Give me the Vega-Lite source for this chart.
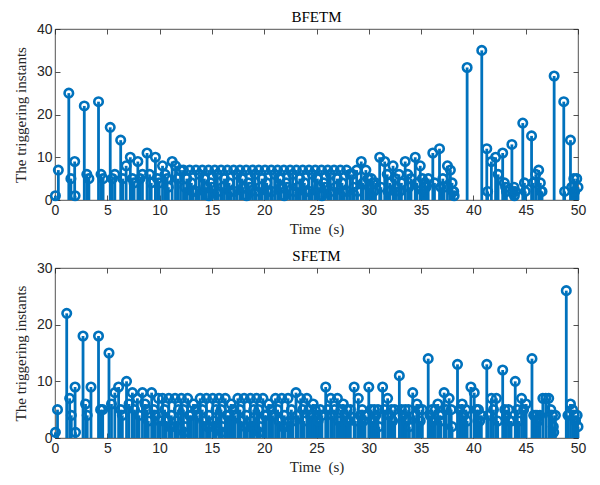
{
"$schema":"https://vega.github.io/schema/vega-lite/v6.json",
"padding":{"left":13,"top":9,"right":20,"bottom":4},
"spacing":11,
"datasets":{
"b":[{"t":0.04,"y":1},{"t":0.32,"y":7},{"t":1.32,"y":25},{"t":1.52,"y":5},{"t":1.88,"y":9},{"t":1.92,"y":1},{"t":2.80,"y":22},{"t":3.04,"y":6},{"t":3.24,"y":5},{"t":4.16,"y":23},{"t":4.40,"y":6},{"t":4.60,"y":5},{"t":5.28,"y":17},{"t":5.48,"y":5},{"t":5.72,"y":6},{"t":6.28,"y":14},
{"t":6.48,"y":5},{"t":6.80,"y":8},{"t":7.20,"y":10},{"t":7.40,"y":5},{"t":7.56,"y":4},{"t":7.92,"y":9},{"t":8.12,"y":5},{"t":8.36,"y":6},{"t":8.80,"y":11},{"t":9.04,"y":6},{"t":9.20,"y":4},{"t":9.60,"y":10},{"t":9.80,"y":5},{"t":9.96,"y":4},{"t":10.28,"y":8},{"t":10.52,"y":6},{"t":10.72,"y":5},{"t":10.84,"y":3},{"t":11.20,"y":9},{"t":11.52,"y":8},{"t":11.72,"y":5},{"t":12.00,"y":7},
{"t":12.28,"y":7},{"t":12.40,"y":3},{"t":12.60,"y":5},{"t":12.88,"y":7},{"t":13.04,"y":4},{"t":13.12,"y":2},{"t":13.20,"y":2},{"t":13.48,"y":7},{"t":13.56,"y":2},{"t":13.80,"y":6},{"t":14.08,"y":7},{"t":14.28,"y":5},{"t":14.40,"y":3},{"t":14.68,"y":7},{"t":14.72,"y":1},{"t":14.88,"y":4},{"t":15.00,"y":3},{"t":15.28,"y":7},{"t":15.52,"y":6},{"t":15.60,"y":2},
{"t":15.88,"y":7},{"t":16.00,"y":3},{"t":16.20,"y":5},{"t":16.48,"y":7},{"t":16.64,"y":4},{"t":16.72,"y":2},{"t":16.80,"y":2},{"t":17.08,"y":7},{"t":17.16,"y":2},{"t":17.40,"y":6},{"t":17.68,"y":7},{"t":17.88,"y":5},{"t":18.00,"y":3},{"t":18.28,"y":7},{"t":18.32,"y":1},{"t":18.48,"y":4},{"t":18.60,"y":3},{"t":18.88,"y":7},{"t":19.12,"y":6},{"t":19.20,"y":2},
{"t":19.48,"y":7},{"t":19.60,"y":3},{"t":19.80,"y":5},{"t":20.08,"y":7},{"t":20.24,"y":4},{"t":20.32,"y":2},{"t":20.40,"y":2},{"t":20.68,"y":7},{"t":20.76,"y":2},{"t":21.00,"y":6},{"t":21.28,"y":7},{"t":21.48,"y":5},{"t":21.60,"y":3},{"t":21.88,"y":7},{"t":21.92,"y":1},{"t":22.08,"y":4},{"t":22.20,"y":3},{"t":22.48,"y":7},{"t":22.72,"y":6},{"t":22.80,"y":2},
{"t":23.08,"y":7},{"t":23.20,"y":3},{"t":23.40,"y":5},{"t":23.68,"y":7},{"t":23.84,"y":4},{"t":23.92,"y":2},{"t":24.00,"y":2},{"t":24.28,"y":7},{"t":24.36,"y":2},{"t":24.60,"y":6},{"t":24.88,"y":7},{"t":25.08,"y":5},{"t":25.20,"y":3},{"t":25.48,"y":7},{"t":25.52,"y":1},{"t":25.68,"y":4},{"t":25.80,"y":3},{"t":26.08,"y":7},{"t":26.32,"y":6},{"t":26.40,"y":2},
{"t":26.68,"y":7},{"t":26.80,"y":3},{"t":27.00,"y":5},{"t":27.28,"y":7},{"t":27.44,"y":4},{"t":27.52,"y":2},{"t":27.60,"y":2},{"t":27.88,"y":7},{"t":27.96,"y":2},{"t":28.20,"y":6},
{"t":28.44,"y":6},{"t":28.56,"y":3},{"t":28.84,"y":7},{"t":28.92,"y":2},{"t":29.28,"y":9},{"t":29.44,"y":4},{"t":29.72,"y":7},{"t":29.92,"y":5},{"t":30.04,"y":3},{"t":30.24,"y":5},{"t":30.40,"y":4},{"t":30.48,"y":2},{"t":30.64,"y":4},{"t":31.04,"y":10},{"t":31.16,"y":3},{"t":31.52,"y":9},{"t":31.76,"y":6},{"t":31.84,"y":2},{"t":32.00,"y":4},{"t":32.32,"y":8},{"t":32.52,"y":5},{"t":32.64,"y":3},{"t":32.88,"y":6},{"t":32.96,"y":2},{"t":33.12,"y":4},{"t":33.48,"y":9},{"t":33.72,"y":6},{"t":33.84,"y":3},{"t":34.04,"y":5},{"t":34.44,"y":10},{"t":34.60,"y":4},{"t":34.92,"y":8},{"t":35.12,"y":5},{"t":35.20,"y":2},{"t":35.36,"y":4},{"t":35.48,"y":3},{"t":35.68,"y":5},{"t":36.12,"y":11},{"t":36.28,"y":4},{"t":36.76,"y":12},{"t":36.88,"y":3},{"t":37.08,"y":5},{"t":37.20,"y":3},{"t":37.52,"y":8},{"t":37.80,"y":7},{"t":37.96,"y":4},{"t":38.04,"y":2},{"t":38.12,"y":2},{"t":38.16,"y":1},
{"t":39.40,"y":31},{"t":40.80,"y":35},
{"t":41.28,"y":12},{"t":41.36,"y":2},{"t":41.72,"y":9},{"t":42.12,"y":10},{"t":42.36,"y":6},{"t":42.80,"y":11},{"t":42.96,"y":4},{"t":43.08,"y":3},{"t":43.16,"y":2},{"t":43.68,"y":13},{"t":43.76,"y":2},{"t":43.88,"y":3},{"t":43.92,"y":1},{"t":44.00,"y":2},{"t":44.72,"y":18},{"t":44.88,"y":4},{"t":44.96,"y":2},{"t":45.56,"y":15},{"t":45.72,"y":4},{"t":45.96,"y":6},{"t":46.24,"y":7},{"t":46.40,"y":4},{"t":46.48,"y":2},{"t":46.56,"y":2},{"t":47.72,"y":29},{"t":48.64,"y":23},{"t":48.72,"y":2},{"t":49.28,"y":14},{"t":49.40,"y":3},{"t":49.60,"y":5},{"t":49.68,"y":2},{"t":49.88,"y":5},{"t":50.00,"y":3}],
"s":[{"t":0.04,"y":1},{"t":0.24,"y":5},{"t":1.12,"y":22},{"t":1.40,"y":7},{"t":1.56,"y":4},{"t":1.92,"y":9},{"t":1.96,"y":1},{"t":2.68,"y":18},{"t":2.92,"y":6},{"t":3.08,"y":4},{"t":3.44,"y":9},{"t":4.16,"y":18},{"t":4.36,"y":5},{"t":4.56,"y":5},{"t":5.16,"y":15},{"t":5.40,"y":6},{"t":5.72,"y":8},{"t":6.08,"y":9},{"t":6.28,"y":5},{"t":6.44,"y":4},{"t":6.84,"y":10},{"t":7.08,"y":6},{"t":7.40,"y":8},{"t":7.60,"y":5},{"t":7.88,"y":7},{"t":8.04,"y":4},{"t":8.36,"y":8},{"t":8.60,"y":6},{"t":8.80,"y":5},{"t":8.92,"y":3},{"t":9.24,"y":8},{"t":9.44,"y":5},{"t":9.60,"y":4},{"t":9.88,"y":7},{"t":10.00,"y":3},
{"t":10.28,"y":7},{"t":10.48,"y":5},{"t":10.60,"y":3},{"t":10.88,"y":7},{"t":10.96,"y":2},{"t":11.12,"y":4},{"t":11.20,"y":2},{"t":11.48,"y":7},{"t":11.60,"y":3},{"t":11.80,"y":5},{"t":12.08,"y":7},{"t":12.28,"y":5},{"t":12.32,"y":1},{"t":12.40,"y":2},{"t":12.68,"y":7},{"t":12.84,"y":4},{"t":13.00,"y":4},{"t":13.24,"y":6},{"t":13.44,"y":5},{"t":13.60,"y":4},
{"t":13.88,"y":7},{"t":14.08,"y":5},{"t":14.20,"y":3},{"t":14.48,"y":7},{"t":14.56,"y":2},{"t":14.72,"y":4},{"t":14.80,"y":2},{"t":15.08,"y":7},{"t":15.20,"y":3},{"t":15.40,"y":5},{"t":15.68,"y":7},{"t":15.88,"y":5},{"t":15.92,"y":1},{"t":16.00,"y":2},{"t":16.28,"y":7},{"t":16.44,"y":4},{"t":16.60,"y":4},{"t":16.84,"y":6},{"t":17.04,"y":5},{"t":17.20,"y":4},
{"t":17.48,"y":7},{"t":17.68,"y":5},{"t":17.80,"y":3},{"t":18.08,"y":7},{"t":18.16,"y":2},{"t":18.32,"y":4},{"t":18.40,"y":2},{"t":18.68,"y":7},{"t":18.80,"y":3},{"t":19.00,"y":5},{"t":19.28,"y":7},{"t":19.48,"y":5},{"t":19.52,"y":1},{"t":19.60,"y":2},{"t":19.88,"y":7},{"t":20.04,"y":4},{"t":20.20,"y":4},{"t":20.44,"y":6},{"t":20.64,"y":5},{"t":20.80,"y":4},
{"t":21.08,"y":7},{"t":21.28,"y":5},{"t":21.40,"y":3},{"t":21.68,"y":7},{"t":21.76,"y":2},{"t":21.92,"y":4},{"t":22.00,"y":2},{"t":22.28,"y":7},{"t":22.40,"y":3},{"t":22.60,"y":5},
{"t":22.72,"y":3},{"t":23.04,"y":8},{"t":23.20,"y":4},{"t":23.48,"y":7},{"t":23.68,"y":5},{"t":23.80,"y":3},{"t":24.08,"y":7},{"t":24.28,"y":5},{"t":24.44,"y":4},{"t":24.68,"y":6},{"t":24.88,"y":5},{"t":25.04,"y":4},{"t":25.16,"y":3},{"t":25.36,"y":5},{"t":25.52,"y":4},{"t":25.88,"y":9},{"t":26.08,"y":5},{"t":26.36,"y":7},{"t":26.52,"y":4},{"t":26.72,"y":5},{"t":27.00,"y":7},{"t":27.12,"y":3},{"t":27.32,"y":5},{"t":27.56,"y":6},{"t":27.72,"y":4},{"t":27.92,"y":5},{"t":28.04,"y":3},{"t":28.24,"y":5},{"t":28.60,"y":9},{"t":28.72,"y":3},{"t":29.00,"y":7},{"t":29.16,"y":4},{"t":29.36,"y":5},{"t":29.48,"y":3},{"t":29.64,"y":4},{"t":30.00,"y":9},{"t":30.20,"y":5},{"t":30.32,"y":3},{"t":30.52,"y":5},{"t":30.68,"y":4},{"t":30.88,"y":5},{"t":30.96,"y":2},{"t":31.32,"y":9},{"t":31.52,"y":5},{"t":31.80,"y":7},{"t":31.96,"y":4},{"t":32.16,"y":5},{"t":32.28,"y":3},{"t":32.48,"y":5},{"t":32.92,"y":11},{"t":33.12,"y":5},{"t":33.28,"y":4},{"t":33.48,"y":5},{"t":33.60,"y":3},{"t":33.80,"y":5},{"t":33.88,"y":2},{"t":34.20,"y":8},{"t":34.36,"y":4},{"t":34.60,"y":6},{"t":34.80,"y":5},{"t":34.92,"y":3},{"t":35.12,"y":5},{"t":35.68,"y":14},{"t":35.84,"y":4},{"t":36.04,"y":5},{"t":36.16,"y":3},{"t":36.36,"y":5},{"t":36.60,"y":6},{"t":36.76,"y":4},{"t":36.88,"y":3},{"t":37.20,"y":8},{"t":37.40,"y":5},{"t":37.68,"y":7},{"t":37.88,"y":5},{"t":37.96,"y":2},{"t":38.48,"y":13},{"t":38.68,"y":5},{"t":38.92,"y":6},{"t":39.08,"y":4},{"t":39.28,"y":5},{"t":39.40,"y":3},{"t":39.76,"y":9},{"t":40.08,"y":8},{"t":40.28,"y":5},{"t":40.48,"y":5},{"t":40.60,"y":3},{"t":40.76,"y":4},{"t":41.28,"y":13},{"t":41.44,"y":4},{"t":41.72,"y":7},{"t":41.92,"y":5},{"t":42.20,"y":7},{"t":42.32,"y":3},{"t":42.80,"y":12},{"t":43.00,"y":5},{"t":43.16,"y":4},{"t":43.36,"y":5},{"t":43.48,"y":3},{"t":43.60,"y":3},{"t":44.00,"y":10},{"t":44.20,"y":5},{"t":44.32,"y":3},{"t":44.60,"y":7},{"t":44.80,"y":5},{"t":45.04,"y":6},{"t":45.60,"y":14},{"t":45.76,"y":4},{"t":45.92,"y":4},{"t":46.08,"y":4},{"t":46.20,"y":3},{"t":46.36,"y":4},{"t":46.64,"y":7},{"t":46.92,"y":7},{"t":47.20,"y":7},{"t":47.40,"y":5},{"t":47.56,"y":4},{"t":47.64,"y":2},{"t":47.68,"y":1},{"t":47.84,"y":4},{"t":48.88,"y":26},{"t":49.04,"y":4},{"t":49.28,"y":6},{"t":49.48,"y":5},{"t":49.64,"y":4},{"t":49.76,"y":3},{"t":49.92,"y":4},{"t":50.00,"y":2}]
},
"vconcat":[
{"title":{"text":"BFETM"},"width":523,"height":171,"data":{"name":"b"},
"layer":[
{"mark":{"type":"rule","color":"#0072BD","strokeWidth":2.8},
"encoding":{"x":{"field":"t","type":"quantitative","scale":{"domain":[0,50],"nice":false,"zero":false},"axis":{"values":[0,5,10,15,20,25,30,35,40,45,50],"title":"Time\u00a0\u00a0(s)"}},
"y":{"field":"y","type":"quantitative","scale":{"domain":[0,40],"nice":false},"axis":{"values":[0,10,20,30,40],"title":"The triggering instants"}},
"y2":{"datum":0}}},
{"mark":{"type":"point","shape":"circle","filled":false,"color":"#0072BD","strokeWidth":2.6,"size":72,"opacity":1},
"encoding":{"x":{"field":"t","type":"quantitative","axis":null},"y":{"field":"y","type":"quantitative","axis":null}}},
{"mark":{"type":"point","opacity":0},
"encoding":{"x":{"field":"t","type":"quantitative","axis":{"orient":"top","labels":false,"title":null,"values":[0,5,10,15,20,25,30,35,40,45,50]}},"y":{"field":"y","type":"quantitative","axis":{"orient":"right","labels":false,"title":null,"values":[0,10,20,30,40]}}}}
],
"resolve":{"axis":{"x":"independent","y":"independent"}}},
{"title":{"text":"SFETM"},"width":523,"height":170,"data":{"name":"s"},
"layer":[
{"mark":{"type":"rule","color":"#0072BD","strokeWidth":2.8},
"encoding":{"x":{"field":"t","type":"quantitative","scale":{"domain":[0,50],"nice":false,"zero":false},"axis":{"values":[0,5,10,15,20,25,30,35,40,45,50],"title":"Time\u00a0\u00a0(s)"}},
"y":{"field":"y","type":"quantitative","scale":{"domain":[0,30],"nice":false},"axis":{"values":[0,10,20,30],"title":"The triggering instants"}},
"y2":{"datum":0}}},
{"mark":{"type":"point","shape":"circle","filled":false,"color":"#0072BD","strokeWidth":2.6,"size":72,"opacity":1},
"encoding":{"x":{"field":"t","type":"quantitative","axis":null},"y":{"field":"y","type":"quantitative","axis":null}}},
{"mark":{"type":"point","opacity":0},
"encoding":{"x":{"field":"t","type":"quantitative","axis":{"orient":"top","labels":false,"title":null,"values":[0,5,10,15,20,25,30,35,40,45,50]}},"y":{"field":"y","type":"quantitative","axis":{"orient":"right","labels":false,"title":null,"values":[0,10,20,30]}}}}
],
"resolve":{"axis":{"x":"independent","y":"independent"}}}
],
"config":{
"view":{"stroke":"#262626","strokeWidth":0.8},
"axis":{"domain":false,"grid":false,"ticks":true,"tickColor":"#262626","tickSize":-5,"tickWidth":0.8,"labelPadding":8,"labelFont":"Liberation Sans","labelFontSize":14,"labelColor":"#262626","titleFont":"Liberation Serif","titleFontSize":15,"titleFontWeight":"normal","titleColor":"#262626"},
"axisX":{"titlePadding":4,"labelFlush":false},
"axisY":{"titlePadding":8,"labelFlush":false},
"title":{"font":"Liberation Serif","fontSize":15,"fontWeight":"normal","color":"#000000","offset":-3}
}
}
